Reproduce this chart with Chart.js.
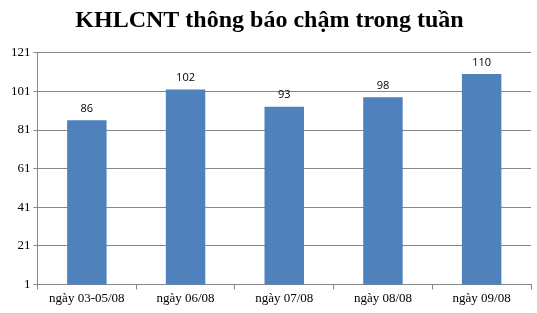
<!DOCTYPE html>
<html lang="vi">
<head>
    <meta charset="UTF-8">
    <title>KHLCNT thông báo chậm trong tuần</title>
    <script src="https://cdn.jsdelivr.net/npm/chart.js"></script>
    <style>
        html, body { margin: 0; padding: 0; background: #fff; }
        #wrap { width: 537px; height: 313px; }
    </style>
</head>
<body>
    <div id="wrap"><canvas id="chart"></canvas></div>

    <script>
        const categories = ["ngày 03-05/08", "ngày 06/08", "ngày 07/08", "ngày 08/08", "ngày 09/08"];
        const values = [86, 102, 93, 98, 110];
        const yTicks = [1, 21, 41, 61, 81, 101, 121];

        // draw value labels above bars
        const barLabels = {
            id: "barLabels",
            afterDatasetsDraw(chart) {
                const ctx = chart.ctx;
                ctx.save();
                ctx.font = "11px 'Open Sans', sans-serif";
                ctx.fillStyle = "#000";
                ctx.textAlign = "center";
                ctx.textBaseline = "bottom";
                chart.getDatasetMeta(0).data.forEach((bar, i) => {
                    ctx.fillText(values[i], bar.x, bar.y - 6);
                });
                ctx.restore();
            }
        };

        new Chart(document.getElementById("chart"), {
            type: "bar",
            data: {
                labels: categories,
                datasets: [{
                    data: values,
                    backgroundColor: "#4F81BD",
                    barPercentage: 0.4,
                    categoryPercentage: 1
                }]
            },
            options: {
                responsive: true,
                maintainAspectRatio: false,
                animation: false,
                layout: { padding: { top: 2, right: 6, bottom: 6, left: 8 } },
                plugins: {
                    legend: { display: false },
                    tooltip: { enabled: false },
                    title: {
                        display: true,
                        text: "KHLCNT thông báo chậm trong tuần",
                        color: "#000",
                        font: { family: "'Liberation Serif', serif", size: 24, weight: "bold" },
                        padding: { top: 4, bottom: 18 }
                    }
                },
                scales: {
                    x: {
                        offset: true,
                        grid: { offset: true, drawOnChartArea: false, color: "#868686", tickLength: 5 },
                        border: { color: "#868686" },
                        ticks: { color: "#000", font: { family: "'Liberation Serif', serif", size: 13 }, maxRotation: 0, padding: 1 }
                    },
                    y: {
                        min: 1,
                        max: 121,
                        afterBuildTicks(axis) { axis.ticks = yTicks.map(v => ({ value: v })); },
                        grid: { color: "#868686", tickLength: 4 },
                        border: { color: "#868686" },
                        ticks: { color: "#000", font: { family: "'Liberation Serif', serif", size: 13 }, padding: 3 }
                    }
                }
            },
            plugins: [barLabels]
        });
    </script>
</body>
</html>
